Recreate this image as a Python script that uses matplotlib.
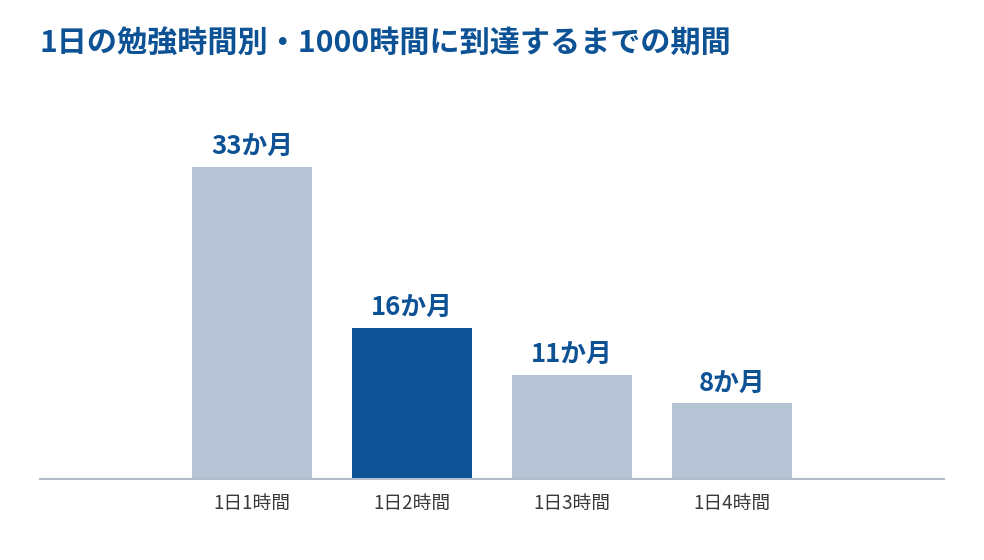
import matplotlib
matplotlib.use("Agg")
import matplotlib.pyplot as plt

plt.rcParams["font.family"] = ["Noto Sans CJK JP", "DejaVu Sans"]

categories = ["1日1時間", "1日2時間", "1日3時間", "1日4時間"]
months = [33, 16, 11, 8]
value_labels = ["33か月", "16か月", "11か月", "8か月"]
highlight_index = 1

DARK_BLUE = "#0e5296"
LIGHT_BLUE = "#b7c4d6"
AXIS_GRAY = "#b3bccb"

fig = plt.figure(figsize=(9.84, 5.6), dpi=100)
ax = fig.add_axes([40 / 984, 1 - 479 / 560, 904 / 984, 379 / 560])

x = list(range(len(categories)))
colors = [DARK_BLUE if i == highlight_index else LIGHT_BLUE for i in x]
bars = ax.bar(x, months, width=0.75, color=colors, zorder=2)

for bar, label in zip(bars, value_labels):
    ax.annotate(label, (bar.get_x() + bar.get_width() / 2, bar.get_height()),
                xytext=(0, 5), textcoords="offset points",
                ha="center", va="bottom", fontsize=18.5, fontweight="bold",
                color=DARK_BLUE)

ax.set_xlim(-1.325, 4.325)
ax.set_ylim(0, 40.1)
ax.set_xticks(x)
ax.set_xticklabels(categories, fontsize=13.5, color="#3a3a3a")
ax.tick_params(axis="x", length=0, pad=10)
ax.set_yticks([])

for side in ["top", "right", "left"]:
    ax.spines[side].set_visible(False)
ax.spines["bottom"].set_color(AXIS_GRAY)
ax.spines["bottom"].set_linewidth(1.5)

fig.text(40 / 984, 1 - 43 / 560, "1日の勉強時間別・1000時間に到達するまでの期間",
         ha="left", va="center", fontsize=21.7, fontweight="bold", color=DARK_BLUE)

fig.savefig("out.png", dpi=100, facecolor="white")
